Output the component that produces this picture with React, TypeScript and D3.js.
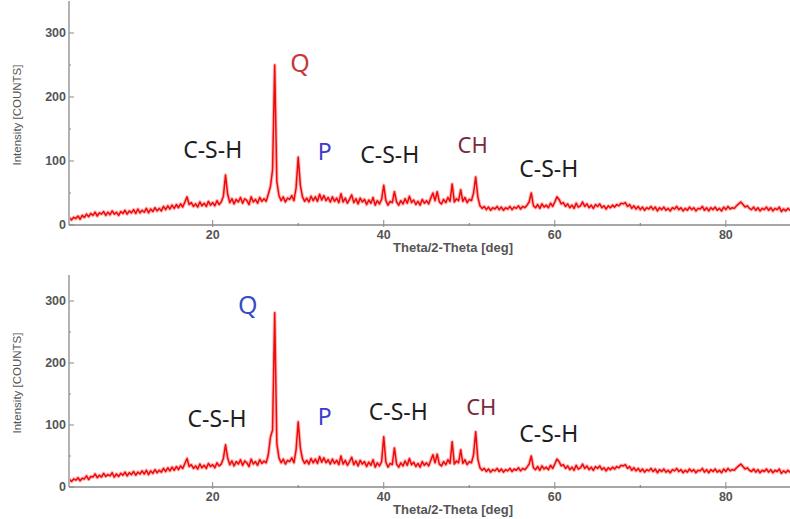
import React from "react";
import * as d3 from "d3";

const X_START = 3.0;
const X_STEP = 0.25;

// Intensity (counts) per 0.25 deg from 3.0 deg, upper pattern
const topCounts = [
  6, 11, 8, 12, 10, 14, 9, 15, 12, 17, 13, 18, 15, 20, 14, 19,
  17, 21, 15, 20, 16, 22, 17, 20, 15, 21, 18, 23, 17, 22, 19, 24,
  18, 25, 19, 23, 20, 26, 19, 25, 21, 27, 22, 26, 22, 29, 24, 30,
  25, 31, 26, 32, 27, 33, 28, 36, 44, 32, 35, 29, 33, 28, 36, 30,
  34, 29, 37, 31, 35, 30, 38, 32, 36, 45, 78, 48, 35, 41, 33, 40,
  36, 43, 34, 41, 38, 32, 44, 36, 40, 34, 43, 37, 41, 37, 48, 60,
  86, 250, 68, 46, 38, 44, 36, 42, 40, 46, 38, 58, 106, 62, 44, 37,
  42, 36, 45, 38, 44, 37, 48, 39, 46, 38, 43, 36, 44, 37, 42, 35,
  49, 36, 42, 34, 40, 47, 35, 41, 33, 42, 36, 40, 32, 39, 34, 43,
  31, 38, 33, 40, 62, 38, 31, 37, 35, 52, 36, 31, 38, 33, 41, 34,
  45, 35, 39, 32, 37, 31, 40, 34, 38, 33, 42, 50, 38, 52, 36, 33,
  40, 35, 43, 37, 64, 36, 41, 38, 55, 37, 43, 35, 40, 38, 50, 75,
  44, 30, 26, 29, 24, 28, 23, 27, 25, 29, 24, 28, 23, 27, 25, 29,
  24, 28, 26, 30, 25, 29, 27, 31, 36, 50, 30, 27, 32, 26, 33, 28,
  31, 27, 34, 29, 36, 44, 40, 33, 35, 29, 33, 27, 31, 26, 34, 28,
  30, 36, 29, 33, 27, 31, 26, 32, 29, 33, 27, 30, 25, 30, 27, 31,
  28, 32, 30, 34, 33, 35, 29, 32, 26, 30, 25, 29, 24, 28, 23, 27,
  25, 29, 24, 28, 22, 27, 24, 28, 23, 26, 22, 27, 25, 29, 24, 27,
  22, 26, 23, 28, 24, 27, 22, 26, 25, 29, 23, 27, 22, 27, 24, 28,
  23, 26, 22, 28, 24, 29, 25, 27, 26, 30, 33, 36, 32, 28, 30, 26,
  24, 28, 23, 27, 22, 26, 24, 28, 23, 27, 22, 26, 24, 28, 21, 25,
  22, 26, 23, 25,
];

// Intensity (counts) per 0.25 deg from 3.0 deg, lower pattern
const bottomCounts = [
  7, 12, 9, 13, 11, 15, 10, 14, 13, 18, 12, 17, 16, 21, 15, 19,
  16, 22, 17, 20, 18, 23, 16, 21, 17, 22, 19, 24, 18, 23, 20, 25,
  19, 24, 21, 26, 21, 27, 20, 26, 22, 28, 23, 27, 24, 30, 25, 31,
  26, 32, 27, 33, 28, 34, 30, 38, 46, 33, 36, 30, 34, 29, 37, 31,
  35, 30, 38, 33, 36, 31, 39, 34, 37, 46, 68, 47, 36, 42, 34, 41,
  37, 44, 35, 42, 39, 33, 45, 37, 41, 35, 44, 38, 42, 39, 52, 80,
  92, 281, 70, 47, 39, 45, 37, 43, 41, 47, 39, 60, 105, 63, 45, 38,
  43, 37, 46, 39, 45, 38, 49, 40, 47, 39, 44, 37, 45, 38, 43, 36,
  50, 37, 43, 35, 41, 48, 36, 42, 34, 43, 37, 41, 33, 40, 35, 44,
  32, 39, 34, 41, 81, 40, 32, 38, 36, 63, 37, 32, 39, 34, 42, 35,
  46, 36, 40, 33, 38, 32, 41, 35, 39, 34, 43, 52, 39, 53, 37, 34,
  41, 36, 44, 38, 73, 37, 42, 39, 60, 38, 44, 36, 41, 39, 52, 89,
  45, 31, 27, 30, 25, 29, 24, 28, 26, 30, 25, 29, 24, 28, 26, 30,
  25, 29, 27, 31, 26, 30, 28, 32, 37, 50, 31, 28, 33, 27, 34, 29,
  32, 28, 35, 30, 37, 45, 41, 34, 36, 30, 34, 28, 32, 27, 35, 29,
  31, 37, 30, 34, 28, 32, 27, 33, 30, 34, 28, 31, 26, 31, 28, 32,
  29, 33, 31, 35, 34, 36, 30, 33, 27, 31, 26, 30, 25, 29, 24, 28,
  26, 30, 25, 29, 23, 28, 25, 29, 24, 27, 23, 28, 26, 30, 25, 28,
  23, 27, 24, 29, 25, 28, 23, 27, 26, 30, 24, 28, 23, 28, 25, 29,
  24, 27, 23, 29, 25, 30, 26, 28, 27, 31, 34, 37, 33, 29, 31, 27,
  25, 29, 24, 28, 23, 27, 25, 29, 24, 28, 23, 27, 25, 29, 22, 26,
  23, 27, 24, 26,
];

const xTicks = [20, 40, 60, 80];
const xMinorTicks = [30, 50, 70];
const yTicks = [0, 100, 200, 300];
const yMinorTicks = [50, 150, 250];

const xAxisTitle = "Theta/2-Theta [deg]";
const yAxisTitle = "Intensity [COUNTS]";

// annotations: label, angle (deg), intensity position, colour key
const topLabels = ["Q", "C-S-H", "P", "C-S-H", "CH", "C-S-H"];
const topLabelDeg = [30.2, 20.0, 33.1, 40.7, 50.4, 59.3];
const topLabelVal = [239, 105, 102, 97, 112, 75];
const topLabelKind = ["qRed", "csh", "p", "csh", "ch", "csh"];

const bottomLabels = ["Q", "C-S-H", "P", "C-S-H", "CH", "C-S-H"];
const bottomLabelDeg = [24.1, 20.5, 33.1, 41.7, 51.4, 59.3];
const bottomLabelVal = [279, 97, 100, 108, 116, 73];
const bottomLabelKind = ["qBlue", "csh", "p", "csh", "ch", "csh"];

const KIND_STYLE: Record<string, { fill: string; size: number }> = {
  qRed: { fill: "#c8373a", size: 25 },
  qBlue: { fill: "#3a4cc4", size: 25 },
  csh: { fill: "#1e1e1e", size: 23 },
  p: { fill: "#3a3ccc", size: 23 },
  ch: { fill: "#7a2a3c", size: 22 },
};

const W = 790;
const H = 519;

type PanelProps = {
  counts: number[];
  labels: string[];
  labelDeg: number[];
  labelVal: number[];
  labelKind: string[];
  y0: number;
  y300: number;
  axisTop: number;
  id: string;
};

function Panel({ counts, labels, labelDeg, labelVal, labelKind, y0, y300, axisTop, id }: PanelProps) {
  const left = 69;
  const right = W;
  const x = d3.scaleLinear().domain([3.2, 87.5]).range([left, right]);
  const y = d3.scaleLinear().domain([0, 300]).range([y0, y300]);

  const line = d3
    .line<number>()
    .x((_, i) => x(X_START + i * X_STEP))
    .y((d) => y(d))
    .curve(d3.curveLinear);
  const path = line(counts) || "";

  const axisColor = "#8a8a8a";
  const tickText = "#555";
  const labelFont = "'Liberation Sans', Arial, sans-serif";

  return (
    <g>
      <defs>
        <clipPath id={`clip-${id}`}>
          <rect x={left + 1} y={axisTop} width={right - left} height={y0 - axisTop} />
        </clipPath>
      </defs>
      <g clipPath={`url(#clip-${id})`}>
        <path d={path} fill="none" stroke="#ff5050" strokeOpacity={0.4} strokeWidth={3.6} strokeLinejoin="round" />
        <path d={path} fill="none" stroke="#ee0a0a" strokeWidth={1.5} strokeLinejoin="round" />
      </g>
      <line x1={left} x2={left} y1={axisTop} y2={y0} stroke={axisColor} strokeWidth={1.3} />
      <line x1={left} x2={right} y1={y0} y2={y0} stroke={axisColor} strokeWidth={1.3} />
      {yTicks.map((t) => (
        <g key={`yt${t}`}>
          <line x1={left} x2={left + 5} y1={y(t)} y2={y(t)} stroke={axisColor} strokeWidth={1} />
          <text
            x={left - 3}
            y={y(t)}
            dy="0.35em"
            textAnchor="end"
            fontFamily={labelFont}
            fontWeight="bold"
            fontSize={12.5}
            fill={tickText}
          >
            {t}
          </text>
        </g>
      ))}
      {yMinorTicks.map((t) => (
        <line key={`ym${t}`} x1={left} x2={left + 2} y1={y(t)} y2={y(t)} stroke={axisColor} strokeWidth={1} />
      ))}
      {xTicks.map((t) => (
        <g key={`xt${t}`}>
          <line x1={x(t)} x2={x(t)} y1={y0 - 5} y2={y0 + 2} stroke={axisColor} strokeWidth={1} />
          <text
            x={x(t)}
            y={y0 + 14}
            textAnchor="middle"
            fontFamily={labelFont}
            fontWeight="bold"
            fontSize={12.5}
            fill={tickText}
          >
            {t}
          </text>
        </g>
      ))}
      {xMinorTicks.map((t) => (
        <line key={`xm${t}`} x1={x(t)} x2={x(t)} y1={y0 - 2} y2={y0 + 1} stroke={axisColor} strokeWidth={1.2} />
      ))}
      <text
        x={x(48.1)}
        y={y0 + 27}
        textAnchor="middle"
        fontFamily={labelFont}
        fontWeight="bold"
        fontSize={13}
        fill={tickText}
      >
        {xAxisTitle}
      </text>
      <text
        transform={`translate(${21},${(axisTop + y0) / 2 + 2}) rotate(-90)`}
        textAnchor="middle"
        fontFamily={labelFont}
        fontSize={11.5}
        fill={tickText}
      >
        {yAxisTitle}
      </text>
      {labels.map((l, i) => {
        const st = KIND_STYLE[labelKind[i]];
        return (
          <text
            key={`lab${i}`}
            x={x(labelDeg[i])}
            y={y(labelVal[i])}
            textAnchor="middle"
            fontFamily="'Noto Sans', 'Open Sans', sans-serif"
            fontSize={st.size}
            fill={st.fill}
          >
            {l}
          </text>
        );
      })}
    </g>
  );
}

export default function App() {
  return (
    <svg
      width={W}
      height={H}
      viewBox={`0 0 ${W} ${H}`}
      style={{ position: "absolute", left: 0, top: 0, background: "#fff" }}
    >
      <rect x={0} y={0} width={W} height={H} fill="#fff" />
      <Panel
        id="top"
        counts={topCounts}
        labels={topLabels}
        labelDeg={topLabelDeg}
        labelVal={topLabelVal}
        labelKind={topLabelKind}
        y0={225}
        y300={33}
        axisTop={1}
      />
      <Panel
        id="bottom"
        counts={bottomCounts}
        labels={bottomLabels}
        labelDeg={bottomLabelDeg}
        labelVal={bottomLabelVal}
        labelKind={bottomLabelKind}
        y0={487}
        y300={301}
        axisTop={275}
      />
    </svg>
  );
}
